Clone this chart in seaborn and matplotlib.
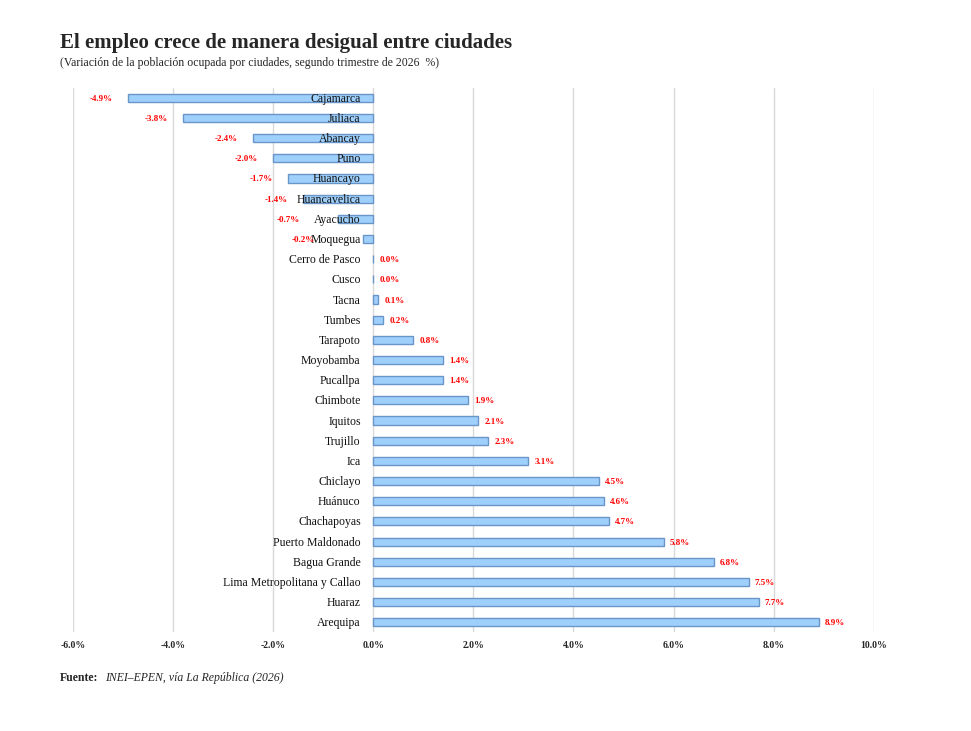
import matplotlib
matplotlib.use("Agg")
import matplotlib.pyplot as plt
import seaborn as sns
import pandas as pd
from matplotlib.ticker import FuncFormatter

cities = ["Cajamarca", "Juliaca", "Abancay", "Puno", "Huancayo", "Huancavelica",
          "Ayacucho", "Moquegua", "Cerro de Pasco", "Cusco", "Tacna", "Tumbes",
          "Tarapoto", "Moyobamba", "Pucallpa", "Chimbote", "Iquitos", "Trujillo",
          "Ica", "Chiclayo", "Huánuco", "Chachapoyas", "Puerto Maldonado",
          "Bagua Grande", "Lima Metropolitana y Callao", "Huaraz", "Arequipa"]
values = [-4.9, -3.8, -2.4, -2.0, -1.7, -1.4, -0.7, -0.2, 0.0, 0.0, 0.1, 0.2,
          0.8, 1.4, 1.4, 1.9, 2.1, 2.3, 3.1, 4.5, 4.6, 4.7, 5.8, 6.8, 7.5, 7.7, 8.9]

df = pd.DataFrame({"city": cities, "value": values})

sns.set_style("white")
plt.rcParams["font.family"] = ["Liberation Serif", "DejaVu Serif"]

fig = plt.figure(figsize=(9.71, 7.31), dpi=100)
ax = fig.add_axes([0.075, 0.135, 0.825, 0.745])

sns.barplot(data=df, x="value", y="city", orient="h", color="#9fd0fb",
            edgecolor="#6a95c8", linewidth=1.0, width=0.4, saturation=1, ax=ax)

ax.set_xlim(-6, 10)
ax.set_ylim(len(cities) - 0.5, -0.5)
ax.set_xticks(range(-6, 11, 2))
ax.xaxis.set_major_formatter(FuncFormatter(lambda v, p: f"{v:.1f}%"))
ax.tick_params(axis="x", labelsize=7, length=0, pad=6)
for t in ax.get_xticklabels():
    t.set_fontweight("bold")
ax.set_yticks([])
ax.set_xlabel("")
ax.set_ylabel("")
ax.grid(axis="x", color="#d9d9d9", linewidth=1)
ax.set_axisbelow(True)
for s in ax.spines.values():
    s.set_visible(False)

for i, (c, v) in enumerate(zip(cities, values)):
    ax.text(-0.25, i + 0.05, c, ha="right", va="center", fontsize=8.5, color="#111111")
    if v < 0:
        xpos = v - 0.3 if v <= -1.4 else -1.05 + v * 0.6
        ax.text(xpos, i + 0.05, f"{v:.1f}%", ha="right", va="center",
                fontsize=6.5, color="red", fontweight="bold")
    else:
        ax.text(v + 0.12, i + 0.05, f"{v:.1f}%", ha="left", va="center",
                fontsize=6.5, color="red", fontweight="bold")

fig.text(0.062, 0.935, "El empleo crece de manera desigual entre ciudades",
         fontsize=15, fontweight="bold", ha="left")
fig.text(0.062, 0.91, "(Variación de la población ocupada por ciudades, segundo trimestre de 2026  %)",
         fontsize=8.5, ha="left")
fig.text(0.062, 0.068, "Fuente:", fontsize=8.5, fontweight="bold", ha="left")
fig.text(0.108, 0.068, "INEI–EPEN, vía La República (2026)", fontsize=8.5,
         style="italic", ha="left")

fig.savefig("out.png", dpi=100)
